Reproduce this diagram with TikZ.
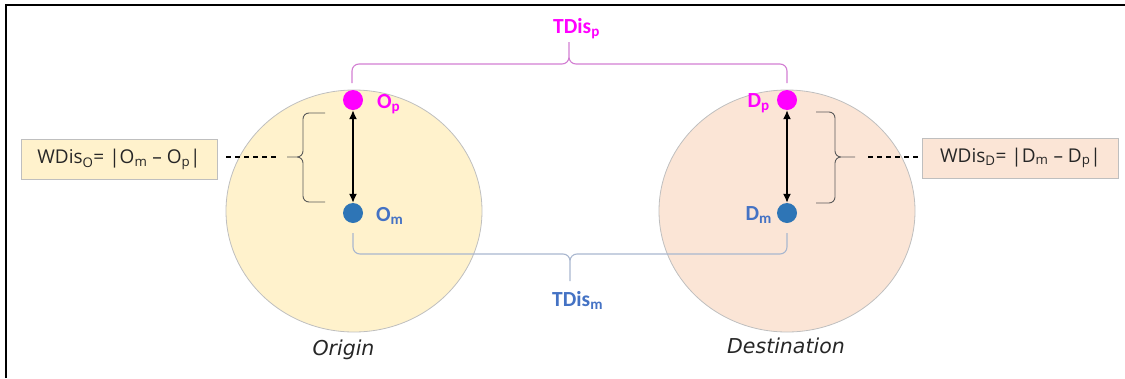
\documentclass[tikz,border=0pt]{standalone}
\usepackage{fontspec}
\setmainfont{Carlito}
\newfontfamily\formulafont{Open Sans}
\newfontfamily\captionfont{DejaVu Sans}
\usetikzlibrary{arrows.meta,shapes.geometric}

\definecolor{origfill}{HTML}{FFF2CC}
\definecolor{destfill}{HTML}{FBE5D6}
\definecolor{ringgray}{HTML}{BFBFBF}
\definecolor{pmag}{HTML}{FF00FF}
\definecolor{mblue}{HTML}{2E75B6}
\definecolor{mtext}{HTML}{4472C4}
\definecolor{pbrace}{HTML}{D27ED2}
\definecolor{mbrace}{HTML}{A9B7CF}
\definecolor{sidebr}{HTML}{5A5A5A}

\begin{document}
\begin{tikzpicture}[x=1pt,y=-1pt,
  zone/.style={ellipse,draw=ringgray,line width=0.8pt,minimum width=256pt,minimum height=242pt,inner sep=0pt},
  dotp/.style={circle,fill=pmag,minimum size=20pt,inner sep=0pt},
  dotm/.style={circle,fill=mblue,minimum size=20pt,inner sep=0pt},
  plabel/.style={font=\fontsize{21.5}{24}\selectfont\bfseries,text=pmag,inner sep=0pt},
  mlabel/.style={font=\fontsize{21.5}{24}\selectfont\bfseries,text=mtext,inner sep=0pt},
  formula/.style={draw=ringgray,line width=0.8pt,font=\formulafont\fontsize{19}{22}\selectfont,
    text=black!85,minimum width=196pt,minimum height=40pt,inner sep=0pt},
  caption/.style={font=\captionfont\itshape\fontsize{20.5}{24}\selectfont,text=black!85,inner sep=0pt},
  pbr/.style={draw=pbrace,line width=1.1pt},
  mbr/.style={draw=mbrace,line width=1.1pt},
  sidebrace/.style={draw=sidebr,line width=0.9pt},
  leader/.style={dash pattern=on 5pt off 4pt,line width=1.5pt,black},
  span/.style={{Latex[length=9pt,width=8pt]}-{Latex[length=9pt,width=8pt]},line width=1.4pt,black}
]
\useasboundingbox (0,0) rectangle (1125,378);

% frame
\draw[line width=2pt] (6,378) -- (6,5) -- (1125,5);

% origin and destination zones
\node[zone,fill=origfill] (orig) at (354,211) {};
\node[zone,fill=destfill] (dest) at (787,211) {};

% points
\node[dotp] (Op) at (353,100) {};
\node[dotm] (Om) at (353,213) {};
\node[dotp] (Dp) at (787,100) {};
\node[dotm] (Dm) at (787,213) {};

\node[plabel,anchor=base west] (OpL) at (377,108) {O\textsubscript{p}};
\node[mlabel,anchor=base west] (OmL) at (376,221) {O\textsubscript{m}};
\node[plabel,anchor=base east] (DpL) at (770,107) {D\textsubscript{p}};
\node[mlabel,anchor=base east] (DmL) at (772,220) {D\textsubscript{m}};

% within-zone distances
\draw[span] (Op.south) -- (Om.north);
\draw[span] (Dp.south) -- (Dm.north);

% brace over the p points
\draw[pbr] (352,83) -- (352,71) to[out=90,in=180] (359,64) -- (562,64)
  to[out=0,in=-90] (569,57) -- (569,42) -- (569,57)
  to[out=-90,in=180] (576,64) -- (780,64) to[out=0,in=90] (787,71) -- (787,83);
\node[plabel,anchor=base west] (TDp) at (553,33) {TDis\textsubscript{p}};

% brace under the m points
\draw[mbr] (353,233) -- (353,247) to[out=-90,in=180] (360,254) -- (563,254)
  to[out=0,in=90] (570,261) -- (570,281) -- (570,261)
  to[out=90,in=180] (577,254) -- (780,254) to[out=0,in=-90] (787,247) -- (787,233);
\node[mlabel,anchor=base west] (TDm) at (552,306) {TDis\textsubscript{m}};

% side brackets
\draw[sidebrace] (325,113) -- (309,113) to[out=180,in=90] (303,119) -- (303,151)
  to[out=-90,in=0] (297,157) -- (287,157) -- (297,157)
  to[out=0,in=90] (303,163) -- (303,196) to[out=-90,in=180] (309,202) -- (325,202);
\coordinate (oTip) at (287,157);

\draw[sidebrace] (816,112) -- (829,112) to[out=0,in=90] (835,118) -- (835,151)
  to[out=-90,in=180] (841,157) -- (855,157) -- (841,157)
  to[out=180,in=90] (835,163) -- (835,197) to[out=-90,in=0] (829,203) -- (816,203);
\coordinate (dTip) at (855,157);

% formula boxes
\node[formula,fill=origfill] (wo) at (119,159.5) {WDis\textsubscript{O}= |O\textsubscript{m} \textendash{} O\textsubscript{p}|};
\node[formula,fill=destfill] (wd) at (1020.5,158) {WDis\textsubscript{D}= |D\textsubscript{m} \textendash{} D\textsubscript{p}|};

\draw[leader,shorten <=9pt,shorten >=11pt] (wo.east |- oTip) -- (oTip);
\draw[leader,shorten <=13pt,shorten >=3pt] (dTip) -- (wd.west |- dTip);

% captions
\node[caption,anchor=base] (oc) at (343.5,355) {Origin};
\node[caption,anchor=base] (dc) at (786,353) {Destination};
\end{tikzpicture}
\end{document}
